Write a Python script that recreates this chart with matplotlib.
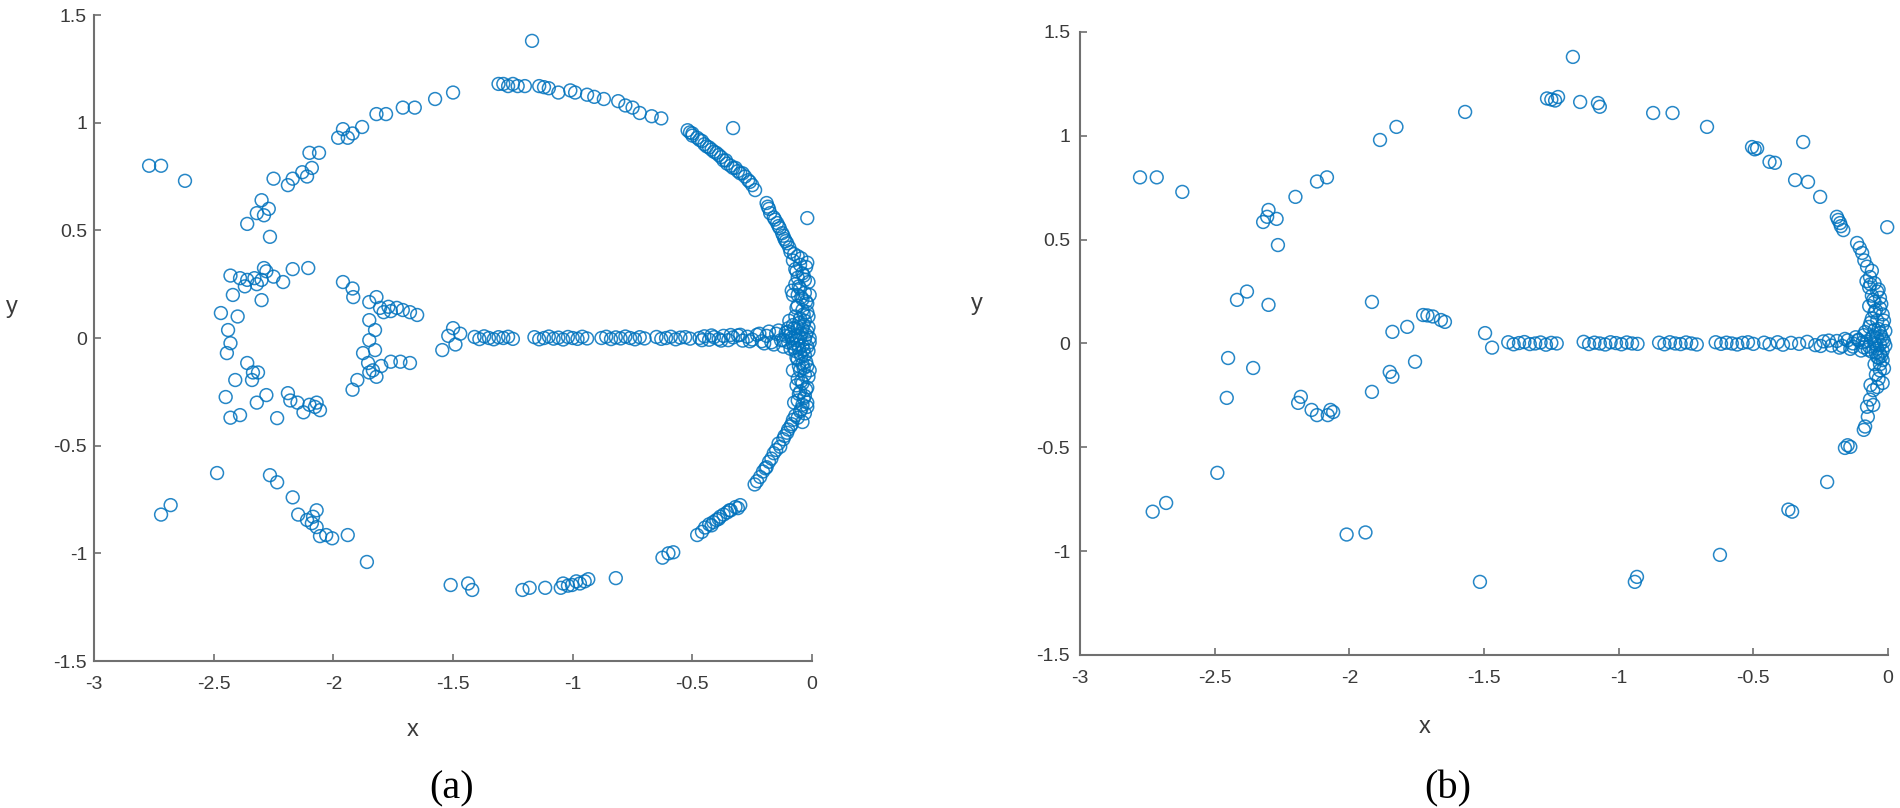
import matplotlib
matplotlib.use("Agg")
import matplotlib.pyplot as plt
import numpy as np

# ---------------- Panel (a) data ----------------
a_arc_x = [-2.77, -2.72, -2.62,
           -2.36, -2.32, -2.30, -2.27, -2.29, -2.265, -2.25, -2.19, -2.17, -2.13, -2.09, -2.10, -2.06, -2.11,
           -1.98, -1.96, -1.94, -1.92, -1.88, -1.82, -1.78, -1.71, -1.66, -1.575, -1.50,
           -1.31, -1.29, -1.27, -1.25, -1.23, -1.20, -1.17,
           -1.14, -1.12, -1.10, -1.06, -1.01, -0.99, -0.94, -0.91, -0.87, -0.81, -0.78, -0.75, -0.72, -0.67, -0.63,
           -0.33,
           -0.52, -0.51, -0.50, -0.48, -0.47, -0.45, -0.44, -0.42, -0.41, -0.39, -0.38, -0.37, -0.355, -0.34, -0.33,
           -0.31, -0.30, -0.28, -0.267, -0.25, -0.238,
           -0.19, -0.185, -0.175, -0.16, -0.146, -0.135, -0.125, -0.115, -0.104, -0.02,
           -0.08, -0.09, -0.104, -0.12, -0.133, -0.16, -0.17, -0.19, -0.205, -0.217, -0.24,
           -0.30, -0.32, -0.34, -0.355, -0.37, -0.384, -0.40, -0.413, -0.43, -0.447, -0.48,
           -0.58, -0.60, -0.625,
           -0.82,
           -0.935, -0.95, -0.97, -0.985, -1.003, -1.02, -1.04, -1.05, -1.115, -1.18, -1.21,
           -1.51, -1.437, -1.42,
           -1.86, -1.94, -2.005, -2.03, -2.056, -2.07, -2.085, -2.07, -2.11, -2.09, -2.147, -2.17, -2.235, -2.265,
           -2.486, -2.68, -2.72]
a_arc_y = [0.80, 0.80, 0.73,
           0.53, 0.58, 0.64, 0.60, 0.57, 0.47, 0.74, 0.71, 0.74, 0.77, 0.79, 0.86, 0.86, 0.75,
           0.93, 0.97, 0.93, 0.95, 0.98, 1.04, 1.04, 1.07, 1.07, 1.11, 1.14,
           1.18, 1.18, 1.17, 1.18, 1.17, 1.17, 1.38,
           1.17, 1.165, 1.16, 1.14, 1.15, 1.14, 1.13, 1.12, 1.11, 1.10, 1.08, 1.07, 1.045, 1.03, 1.02,
           0.975,
           0.965, 0.955, 0.94, 0.93, 0.92, 0.90, 0.89, 0.875, 0.865, 0.85, 0.84, 0.825, 0.81, 0.80, 0.79,
           0.775, 0.765, 0.75, 0.733, 0.71, 0.687,
           0.627, 0.61, 0.58, 0.56, 0.534, 0.51, 0.487, 0.46, 0.44, 0.557,
           -0.38, -0.41, -0.44, -0.47, -0.505, -0.535, -0.56, -0.60, -0.62, -0.645, -0.68,
           -0.776, -0.785, -0.80, -0.81, -0.82, -0.83, -0.845, -0.855, -0.865, -0.88, -0.915,
           -0.995, -1.00, -1.02,
           -1.115,
           -1.12, -1.13, -1.14, -1.13, -1.147, -1.15, -1.14, -1.16, -1.16, -1.16, -1.17,
           -1.147, -1.14, -1.17,
           -1.04, -0.915, -0.93, -0.915, -0.92, -0.878, -0.83, -0.80, -0.845, -0.86, -0.82, -0.74, -0.67, -0.637,
           -0.627, -0.776, -0.82]

a_thick_x = [-0.50, -0.46, -0.43, -0.40, -0.36, -0.32, -0.29, -0.26,
             -0.18, -0.155, -0.14, -0.12, -0.11, -0.095,
             -0.085, -0.10, -0.115, -0.14, -0.15, -0.18, -0.195, -0.23,
             -0.31, -0.345, -0.39, -0.42, -0.46]
a_thick_y = [0.95, 0.915, 0.885, 0.86, 0.825, 0.79, 0.765, 0.725,
             0.60, 0.55, 0.52, 0.475, 0.45, 0.42,
             -0.40, -0.425, -0.455, -0.49, -0.52, -0.575, -0.605, -0.665,
             -0.79, -0.80, -0.84, -0.87, -0.90]

a_inner_x = [-2.43, -2.39, -2.36, -2.33, -2.29, -2.28, -2.30, -2.25, -2.21, -2.17, -2.105, -2.32, -2.37,
             -2.42, -2.30,
             -2.47, -2.40, -2.44, -2.43, -2.445,
             -2.36, -2.336, -2.315, -2.34, -2.41,
             -2.45, -2.28, -2.32, -2.43, -2.39, -2.235,
             -2.19, -2.18, -2.15, -2.125, -2.077, -2.056, -2.07, -2.10,
             -1.96, -1.92, -1.917,
             -1.85, -1.82, -1.805, -1.77, -1.735, -1.71, -1.68, -1.65, -1.79, -1.76,
             -1.85, -1.826, -1.85, -1.826,
             -1.876, -1.855, -1.835, -1.82, -1.85, -1.80, -1.76, -1.72, -1.68,
             -1.90, -1.92,
             -1.545, -1.50, -1.49, -1.52, -1.47]
a_inner_y = [0.29, 0.278, 0.27, 0.278, 0.325, 0.31, 0.27, 0.285, 0.26, 0.32, 0.325, 0.25, 0.24,
             0.20, 0.176,
             0.116, 0.10, 0.037, -0.024, -0.07,
             -0.116, -0.16, -0.16, -0.195, -0.195,
             -0.274, -0.265, -0.30, -0.37, -0.358, -0.372,
             -0.256, -0.29, -0.30, -0.345, -0.32, -0.335, -0.30, -0.31,
             0.26, 0.23, 0.19,
             0.167, 0.19, 0.14, 0.145, 0.14, 0.13, 0.12, 0.107, 0.12, 0.125,
             0.083, 0.037, -0.01, -0.056,
             -0.07, -0.116, -0.15, -0.18, -0.16, -0.13, -0.11, -0.11, -0.116,
             -0.195, -0.24,
             -0.056, 0.046, -0.03, 0.01, 0.02]

a_line_x = [-1.41, -1.39, -1.37, -1.35, -1.33, -1.31, -1.29, -1.27, -1.25,
            -1.16, -1.14, -1.12, -1.10, -1.08, -1.06, -1.04, -1.02, -1.00, -0.98, -0.96, -0.94,
            -0.88, -0.86, -0.84, -0.82, -0.80, -0.78, -0.76, -0.74, -0.72, -0.70,
            -0.65, -0.63, -0.61, -0.59, -0.57, -0.55, -0.53, -0.51,
            -0.47, -0.45, -0.43, -0.41, -0.39, -0.37, -0.35, -0.33, -0.31, -0.29, -0.27, -0.25,
            -0.23, -0.21, -0.19, -0.17, -0.15, -0.13, -0.11,
            -0.46, -0.42, -0.38, -0.34, -0.30, -0.26, -0.22, -0.20, -0.18, -0.16, -0.14, -0.12, -0.10, -0.09]
a_line_y = [0.005, -0.005, 0.008, 0.0, -0.006, 0.004, 0.0, 0.006, -0.004,
            0.004, -0.006, 0.0, 0.007, -0.003, 0.002, -0.007, 0.005, 0.0, -0.004, 0.006, -0.002,
            0.0, 0.006, -0.005, 0.003, -0.002, 0.007, 0.0, -0.006, 0.004, -0.002,
            0.005, -0.004, 0.0, 0.006, -0.006, 0.002, 0.004, -0.003,
            0.0, 0.008, -0.008, 0.004, -0.005, 0.01, -0.01, 0.003, 0.012, -0.012, 0.006, -0.007,
            0.015, -0.015, 0.01, -0.02, 0.02, -0.01, 0.025,
            -0.01, 0.012, -0.012, 0.014, 0.015, -0.015, 0.02, -0.025, 0.03, -0.03, 0.035, -0.04, 0.045, -0.05]

a_band_x = [-0.09, -0.06, -0.08, -0.05, -0.07, -0.04, -0.06, -0.03, -0.07, -0.05, -0.03, -0.06, -0.04, -0.02,
            -0.06, -0.04, -0.02, -0.07, -0.05, -0.03, -0.08, -0.06, -0.04, -0.02, -0.10, -0.09, -0.07, -0.05,
            -0.03, -0.01, -0.12, -0.10, -0.08, -0.06, -0.04, -0.02, -0.07, -0.05, -0.03, -0.06, -0.04, -0.02,
            -0.05, -0.03, -0.06, -0.04, -0.02, -0.05, -0.03, -0.06, -0.04, -0.02, -0.05, -0.07, -0.03,
            -0.01, -0.01, -0.02, -0.08, -0.08,
            -0.075, -0.045, -0.025, -0.065, -0.035, -0.015, -0.055, -0.085, -0.045, -0.025, -0.065, -0.035,
            -0.015, -0.095, -0.055, -0.075, -0.035, -0.015, -0.11, -0.085, -0.065, -0.045, -0.025, -0.01,
            -0.075, -0.055, -0.035, -0.015, -0.065, -0.045, -0.025, -0.055, -0.035, -0.015, -0.045, -0.065,
            -0.025, -0.055, -0.035, -0.075, -0.045, -0.02, -0.06, -0.04]
a_band_y = [0.40, 0.38, 0.36, 0.34, 0.32, 0.30, 0.28, 0.27, 0.25, 0.23, 0.21, 0.20, 0.18, 0.16,
            0.15, 0.13, 0.12, 0.10, 0.09, 0.08, 0.06, 0.05, 0.04, 0.03, 0.03, 0.015, 0.01, 0.0,
            -0.005, 0.0, -0.01, -0.02, -0.025, -0.03, -0.035, -0.04, -0.06, -0.07, -0.08, -0.10, -0.12, -0.13,
            -0.15, -0.17, -0.19, -0.21, -0.23, -0.25, -0.27, -0.29, -0.31, -0.32, -0.34, -0.36, -0.35,
            0.20, -0.15, 0.35, 0.20, -0.15,
            0.39, 0.37, 0.33, 0.31, 0.29, 0.26, 0.24, 0.22, 0.19, 0.17, 0.14, 0.11,
            0.10, 0.08, 0.07, 0.045, 0.06, 0.05, 0.01, 0.0, -0.01, 0.02, 0.015, -0.02,
            -0.045, -0.05, -0.055, -0.06, -0.09, -0.085, -0.11, -0.13, -0.14, -0.18, -0.20, -0.22,
            -0.24, -0.26, -0.28, -0.30, -0.33, -0.30, -0.37, -0.39]

# ---------------- Panel (b) data ----------------
b_arc_x = [-2.777, -2.715, -2.62,
           -2.32, -2.30, -2.27, -2.305, -2.265, -2.20, -2.12, -2.083,
           -1.886, -1.825, -1.57,
           -1.17, -1.266, -1.236, -1.225, -1.25, -1.143, -1.077, -1.07, -0.872, -0.80, -0.672,
           -0.505, -0.495, -0.486, -0.44, -0.42, -0.315, -0.345, -0.297, -0.252,
           -0.19, -0.185, -0.178, -0.166, -0.003, -0.115, -0.096, -0.078, -0.067,
           -0.04, -0.03, -0.035, -0.055, -0.067, -0.055, -0.078, -0.075, -0.085, -0.09, -0.14, -0.16, -0.15,
           -0.226, -0.356, -0.37, -0.624, -0.932, -0.94,
           -1.515, -1.94, -2.01, -2.49, -2.68, -2.73,
           -0.175, -0.105, -0.088, -0.06, -0.05, -0.045, -0.065]
b_arc_y = [0.80, 0.80, 0.73,
           0.585, 0.643, 0.60, 0.61, 0.474, 0.706, 0.78, 0.80,
           0.98, 1.043, 1.115,
           1.38, 1.18, 1.17, 1.187, 1.175, 1.163, 1.158, 1.14, 1.11, 1.11, 1.043,
           0.946, 0.935, 0.94, 0.875, 0.87, 0.97, 0.787, 0.778, 0.706,
           0.61, 0.595, 0.58, 0.546, 0.56, 0.484, 0.436, 0.37, 0.32,
           -0.065, -0.13, -0.17, -0.225, -0.27, -0.296, -0.305, -0.353, -0.40, -0.416, -0.498, -0.503, -0.49,
           -0.667, -0.81, -0.80, -1.018, -1.124, -1.148,
           -1.148, -0.91, -0.92, -0.623, -0.768, -0.81,
           0.565, 0.46, 0.40, 0.35, -0.10, -0.15, -0.20]

b_inner_x = [-2.417, -2.38, -2.30,
             -1.916, -1.84, -1.785, -1.726, -1.71, -1.69, -1.66, -1.645,
             -1.496, -1.47,
             -2.45, -2.357, -2.455,
             -2.18, -2.19, -2.14, -2.12, -2.07, -2.08, -2.06,
             -1.916, -1.85, -1.84, -1.756]
b_inner_y = [0.21, 0.25, 0.186,
             0.20, 0.056, 0.08, 0.137, 0.135, 0.13, 0.113, 0.104,
             0.05, -0.02,
             -0.07, -0.118, -0.262,
             -0.257, -0.286, -0.32, -0.345, -0.32, -0.345, -0.33,
             -0.233, -0.137, -0.16, -0.088]

b_line_x = [-1.41, -1.39, -1.37, -1.35, -1.33, -1.31, -1.29, -1.27, -1.25, -1.23,
            -1.13, -1.11, -1.09, -1.07, -1.05, -1.03, -1.01, -0.99, -0.97, -0.95, -0.93,
            -0.85, -0.83, -0.81, -0.79, -0.77, -0.75, -0.73, -0.71,
            -0.64, -0.62, -0.60, -0.58, -0.56, -0.54, -0.52, -0.50,
            -0.46, -0.44, -0.41, -0.39, -0.36, -0.33, -0.30, -0.27, -0.24, -0.21,
            -0.19, -0.17, -0.15, -0.13, -0.11, -0.09,
            -0.25, -0.22, -0.18, -0.16, -0.14, -0.12, -0.10]
b_line_y = [0.006, -0.004, 0.002, 0.007, -0.003, 0.0, 0.005, -0.006, 0.003, 0.0,
            0.008, -0.003, 0.004, 0.0, -0.005, 0.006, 0.002, -0.004, 0.005, 0.0, -0.002,
            0.004, -0.004, 0.006, 0.0, -0.003, 0.005, 0.0, -0.005,
            0.006, -0.002, 0.004, 0.0, -0.005, 0.003, 0.006, -0.002,
            0.004, -0.004, 0.006, -0.006, 0.003, -0.002, 0.008, -0.008, 0.01, -0.01,
            0.012, -0.012, 0.015, -0.015, 0.018, -0.018,
            -0.012, 0.014, -0.02, 0.022, -0.026, 0.03, -0.034]

b_band_x = [-0.08, -0.05, -0.07, -0.04, -0.06, -0.03, -0.05, -0.07, -0.03, -0.05, -0.02, -0.06, -0.04,
            -0.02, -0.07, -0.05, -0.03, -0.01, -0.09, -0.06, -0.04, -0.02, -0.11, -0.08, -0.05, -0.03,
            -0.01, -0.13, -0.07, -0.04, -0.02, -0.06, -0.03, -0.02, -0.03, -0.02, -0.04,
            -0.065, -0.035, -0.055, -0.025, -0.045, -0.015, -0.065, -0.035, -0.085, -0.055, -0.025, -0.095,
            -0.045, -0.015, -0.075, -0.045, -0.025, -0.035, -0.015]
b_band_y = [0.30, 0.29, 0.27, 0.25, 0.23, 0.22, 0.20, 0.18, 0.17, 0.15, 0.14, 0.12, 0.11,
            0.09, 0.08, 0.065, 0.05, 0.06, 0.04, 0.03, 0.025, 0.02, 0.015, 0.01, 0.0, -0.005,
            -0.01, 0.0, -0.015, -0.025, -0.035, -0.04, -0.05, -0.08, -0.10, -0.19, -0.21,
            0.285, 0.26, 0.21, 0.19, 0.16, 0.11, 0.10, 0.07, 0.055, 0.035, 0.035, 0.005,
            -0.005, 0.01, -0.03, -0.045, -0.06, -0.07, -0.12]

xticks = [-3, -2.5, -2, -1.5, -1, -0.5, 0]
xtick_labels = ["-3", "-2.5", "-2", "-1.5", "-1", "-0.5", "0"]
yticks = [-1.5, -1, -0.5, 0, 0.5, 1, 1.5]
ytick_labels = ["-1.5", "-1", "-0.5", "0", "0.5", "1", "1.5"]

MARK = "#0072BD"
AXC = "#707070"
TXT = "#3a3a3a"

fig = plt.figure(figsize=(19.0, 8.08), dpi=100)
ax_a = fig.add_axes([0.0495, 0.1819, 0.3779, 0.7995])
ax_b = fig.add_axes([0.5684, 0.1894, 0.4253, 0.7710])

panels = [
    (ax_a, [a_arc_x, a_thick_x, a_inner_x, a_line_x, a_band_x],
     [a_arc_y, a_thick_y, a_inner_y, a_line_y, a_band_y], 5),
    (ax_b, [b_arc_x, b_inner_x, b_line_x, b_band_x],
     [b_arc_y, b_inner_y, b_line_y, b_band_y], 7),
]
for ax, xs, ys, ypad in panels:
    x = np.concatenate([np.asarray(v, float) for v in xs])
    y = np.concatenate([np.asarray(v, float) for v in ys])
    ax.scatter(x, y, s=85, facecolors="none", edgecolors=MARK, linewidths=1.1,
               alpha=0.85, clip_on=False, zorder=3)
    ax.set_xlim(-3, 0)
    ax.set_ylim(-1.5, 1.5)
    ax.set_xticks(xticks)
    ax.set_xticklabels(xtick_labels)
    ax.set_yticks(yticks)
    ax.set_yticklabels(ytick_labels)
    for side in ("top", "right"):
        ax.spines[side].set_visible(False)
    for side in ("left", "bottom"):
        ax.spines[side].set_color(AXC)
        ax.spines[side].set_linewidth(1.5)
    ax.tick_params(axis="both", direction="in", length=5, width=1.2, color=AXC,
                   labelsize=14, labelcolor=TXT)
    ax.tick_params(axis="x", pad=11)
    ax.tick_params(axis="y", pad=ypad)
    for lab in ax.get_xticklabels() + ax.get_yticklabels():
        lab.set_fontfamily("Liberation Sans")
    ax.set_facecolor("white")

# axis labels
fig.text(413 / 1900, 1 - 730 / 808, "x", ha="center", va="center", fontsize=17,
         color=TXT, family="Liberation Sans")
fig.text(12 / 1900, 1 - 307 / 808, "y", ha="center", va="center", fontsize=17,
         color=TXT, family="Liberation Sans")
fig.text(1425 / 1900, 1 - 727 / 808, "x", ha="center", va="center", fontsize=17,
         color=TXT, family="Liberation Sans")
fig.text(977 / 1900, 1 - 304 / 808, "y", ha="center", va="center", fontsize=17,
         color=TXT, family="Liberation Sans")

# panel captions
fig.text(452 / 1900, 1 - 789 / 808, "(a)", ha="center", va="center", fontsize=29,
         color="black", family="Liberation Serif")
fig.text(1448 / 1900, 1 - 789 / 808, "(b)", ha="center", va="center", fontsize=29,
         color="black", family="Liberation Serif")

fig.savefig("out.png", dpi=100, facecolor="white")
